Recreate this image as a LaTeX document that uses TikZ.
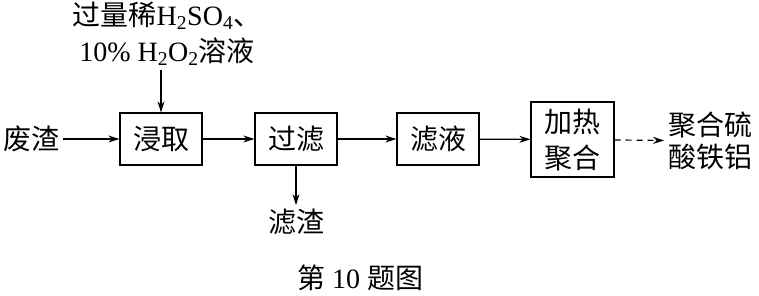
\documentclass[tikz,border=0pt]{standalone}
\usepackage{fontspec}
\setmainfont{Liberation Serif}
\newfontfamily\cjk{Noto Sans CJK SC}
\usetikzlibrary{arrows.meta, positioning}
\newcommand{\zh}[1]{{\cjk #1}}

\begin{document}
\begin{tikzpicture}[x=1pt, y=-1pt, font=\fontsize{28}{36}\selectfont, >={Stealth[length=11pt, width=7pt]},
   line width=1.2pt,
   stepbox/.style={draw, line width=1.2pt, inner sep=0pt, minimum width=82pt, minimum height=52pt}]
  \useasboundingbox (0,0) rectangle (759,296);
  % process boxes
  \node[stepbox] (jinqu) at (161,139) {\zh{浸取}};
  \node[stepbox] (guolv) at (296,139) {\zh{过滤}};
  \node[stepbox] (lvye) at (438,139) {\zh{滤液}};
  \node[stepbox, minimum width=83pt, minimum height=75pt, align=center] (juhe) at (572.5,139.5) {\zh{加热}\\\zh{聚合}};
  % materials
  \node (feizha) at (31,139) {\zh{废渣}};
  \node[align=center] (shiji) at (167,34) {\zh{过量稀}H\textsubscript{2}SO\textsubscript{4}\zh{、}\\10\% H\textsubscript{2}O\textsubscript{2}\zh{溶液}};
  \node (lvzha) at (296,222) {\zh{滤渣}};
  \node[align=center, font=\fontsize{28}{32}\selectfont] (chanpin) at (710,141) {\zh{聚合硫}\\\zh{酸铁铝}};
  \node (title) at (360,278) {\zh{第} 10 \zh{题图}};
  % flow
  \draw[->] (feizha) -- (jinqu);
  \draw[->] (shiji.south -| jinqu.north) -- (jinqu.north);
  \draw[->] (jinqu) -- (guolv);
  \draw[->] (guolv) -- (lvye);
  \draw[->] (guolv.south) -- (lvzha.north);
  \draw[->] (lvye) -- (juhe);
  \draw[->, dashed, dash pattern=on 6pt off 5pt] (juhe) -- (chanpin);
\end{tikzpicture}
\end{document}
